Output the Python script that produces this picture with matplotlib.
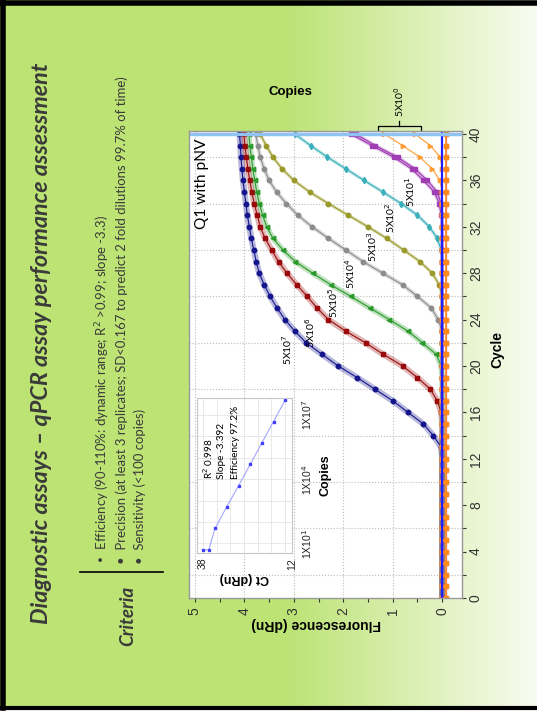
import matplotlib
matplotlib.use("Agg")
import matplotlib.pyplot as plt
import numpy as np

W, H = 537, 719
GREEN_BG = "#bce374"; INK = "#3a3a3a"
SLIDE = ["Lato", "DejaVu Sans"]; CHART = ["Liberation Sans", "DejaVu Sans"]

cycles = list(range(41))
# fluorescence (dRn) per cycle
f_5e7 = [0.0] * 13 + [0.02, 0.18, 0.38, 0.69, 1.0, 1.36, 1.72, 2.1, 2.43, 2.75, 2.98, 3.18, 3.34,
                      3.48, 3.6, 3.7, 3.76, 3.81, 3.86, 3.9, 3.94, 3.97, 4.0, 4.03, 4.05, 4.07, 4.08, 4.1]
f_5e6 = [0.0] * 16 + [0.02, 0.1, 0.24, 0.5, 0.8, 1.19, 1.55, 1.95, 2.3, 2.53, 2.73, 2.94, 3.14,
                      3.31, 3.45, 3.58, 3.68, 3.74, 3.8, 3.85, 3.89, 3.93, 3.96, 3.99, 4.01]
f_5e5 = [0.0] * 20 + [0.02, 0.12, 0.4, 0.69, 1.07, 1.46, 1.85, 2.25, 2.62, 2.97, 3.22, 3.42, 3.55,
                      3.63, 3.7, 3.75, 3.79, 3.83, 3.86, 3.89, 3.91]
f_5e4 = [0.0] * 24 + [0.08, 0.22, 0.5, 0.8, 1.2, 1.6, 1.95, 2.3, 2.63, 2.92, 3.15, 3.35, 3.5, 3.6,
                      3.68, 3.73, 3.77]
f_5e3 = [0.0] * 27 + [0.06, 0.2, 0.45, 0.78, 1.12, 1.5, 1.9, 2.3, 2.68, 3.0, 3.24, 3.42, 3.56, 3.68]
f_5e2 = [0.0] * 30 + [0.02, 0.1, 0.26, 0.5, 0.83, 1.2, 1.58, 1.95, 2.32, 2.66, 2.98]
f_5e1a = [0.0] * 33 + [0.02, 0.06, 0.16, 0.38, 0.62, 0.98, 1.42, 1.85]
f_5e1b = [0.0] * 34 + [0.02, 0.1, 0.3, 0.55, 0.9, 1.35, 1.75]
f_5e0a = [0.0] * 36 + [0.05, 0.2, 0.45, 0.8, 1.17]
f_5e0b = [0.0] * 38 + [0.04, 0.24, 0.55]
f_flat = [-0.07] * 41

# standard curve inset: log10 copies vs Ct
std_log_copies = [0.7, 0.7, 1.7, 2.7, 3.7, 4.7, 5.7, 6.7, 7.7]
std_ct = [38.0, 36.3, 34.5, 31.1, 27.6, 24.2, 20.8, 17.4, 14.0]

curve_labels = ["5X10$^7$", "5X10$^6$", "5X10$^5$", "5X10$^4$", "5X10$^3$", "5X10$^2$", "5X10$^1$"]
label_pos = [(3.14, 21.4), (2.67, 22.9), (2.2, 25.5), (1.86, 28.0), (1.42, 30.3), (1.05, 32.8),
             (0.65, 35.0)]

plt.rcParams["font.family"] = CHART

fig = plt.figure(figsize=(W / 100, H / 100), dpi=100)
rend = fig.canvas.get_renderer()

def box(l, t, r, b):
    return [l / W, 1 - b / H, (r - l) / W, (b - t) / H]

def fit(txt, length):
    # scale a rotated text so that it spans `length` pixels
    h = txt.get_window_extent(rend).height
    txt.set_fontsize(txt.get_fontsize() * length / h)

# slide background: flat green, fading to white on the right
bg = fig.add_axes([0, 0, 1, 1])
bg.set_xlim(0, W); bg.set_ylim(H, 0); bg.axis("off")
c0 = np.array(matplotlib.colors.to_rgb(GREEN_BG)); c1 = np.array(matplotlib.colors.to_rgb("#f9fcf2"))
t = np.clip((np.arange(W) - 285) / (W - 285), 0, 1)
grad = c0[None, :] * (1 - t[:, None]) + c1[None, :] * t[:, None]
bg.imshow(np.repeat(grad[None, :, :], 2, axis=0), extent=[0, W, 708, 0], aspect="auto")
bg.plot([2, W], [2.5, 2.5], color="black", lw=4)
bg.plot([2.5, 2.5], [2, 708], color="black", lw=4)
bg.plot([2, W], [708, 708], color="black", lw=3)

title = bg.text(42, 343, "Diagnostic assays \u2013 qPCR assay performance assessment", rotation=90,
                ha="center", va="center", fontsize=15, fontweight="bold", fontstyle="italic",
                color=INK, family=SLIDE)
fit(title, 563)
crit = bg.text(128, 616, "Criteria", rotation=90, ha="center", va="center", fontsize=13,
               fontweight="bold", fontstyle="italic", color=INK, family=SLIDE)
fit(crit, 60)
bg.plot([80, 163], [572, 572], color="black", lw=1.2)
bullets = ["\u2022  Efficiency (90-110%: dynamic range; R$^2$ >0.99; slope -3.3)",
           "\u2022  Precision (at least 3 replicates; SD<0.167 to predict 2 fold dilutions 99.7% of time)",
           "\u2022  Sensitivity (<100 copies)"]
btxt = [bg.text(xb, 564, s, rotation=90, ha="center", va="bottom", fontsize=9, color=INK,
                family=SLIDE) for xb, s in zip([103, 122, 140], bullets)]
fit(btxt[1], 488)
for b in btxt:
    b.set_fontsize(btxt[1].get_fontsize())
bg.text(290, 92, "Copies", ha="center", va="center", fontsize=9.5, fontweight="bold", color="black")
bg.text(497, 350, "Cycle", rotation=90, ha="center", va="center", fontsize=10, fontweight="bold")
bg.text(316, 624, "Fluorescence (dRn)", rotation=180, ha="center", va="center", fontsize=10,
        fontweight="bold")
# bracket over the 5X10^0 replicates
bg.plot([378, 378, 421, 421], [131, 126, 126, 131], color="black", lw=0.9)
bg.plot([399, 399], [126, 121], color="black", lw=0.9)
bg.text(399, 117, "5X10$^0$", rotation=90, ha="center", va="bottom", fontsize=7.5, family=SLIDE)

# main amplification plot (rotated: x = fluorescence, y = cycle)
ax = fig.add_axes(box(189, 131, 462, 598))
ax.set_facecolor("white")
series = [(f_5e7, "#14148c", "o", 4.5), (f_5e6, "#9a0a0a", "s", 4.5), (f_5e5, "#2a9a2a", "<", 4),
          (f_5e4, "#8c8c8c", "o", 3), (f_5e3, "#9a9a2a", "o", 2.5), (f_5e2, "#38afbb", "d", 2.5),
          (f_5e1a, "#a03cb4", "s", 2.5), (f_5e1b, "#a03cb4", "s", 2.5)]
for vals, col, mk, band in series:
    ax.plot(vals, cycles, color=col, lw=band, alpha=0.3, solid_capstyle="round")
    ax.plot(vals, cycles, color=col, lw=0.8, marker=mk, ms=3.2, mec=col, mfc=col)
for vals in (f_5e0a, f_5e0b):
    ax.plot(vals, cycles, color="#ff9a30", lw=0.9, marker=">", ms=3.2, alpha=0.9)
ax.plot(f_flat, cycles, color="#b050c0", lw=1, marker="s", ms=3.5, alpha=0.7)
ax.plot(f_flat, cycles, color="#ff8a1a", lw=1.2, marker="s", ms=3)
ax.axvline(0, color="#2020ff", lw=1.6)
ax.axhline(40, color="#8ec3f2", lw=2.5)
for s, (x, y) in zip(curve_labels, label_pos):
    ax.text(x, y, s, rotation=90, ha="center", va="center", fontsize=7.5, family=SLIDE)
q1 = ax.text(4.85, 35.7, "Q1 with pNV", rotation=90, ha="center", va="center", fontsize=13,
             family=SLIDE)
fit(q1, 90)

ax.set_xlim(5.12, -0.4); ax.set_ylim(0, 40.26)
ax.set_xticks([5, 4, 3, 2, 1, 0]); ax.set_xticks(np.arange(0, 5.01, 0.5), minor=True)
ax.set_yticks(range(0, 41, 4)); ax.set_yticks(range(0, 41, 2), minor=True)
ax.yaxis.tick_right()
ax.tick_params(axis="both", which="both", labelsize=10, colors="#333333", length=3, width=0.8)
ax.tick_params(axis="x", labelrotation=90)
ax.tick_params(axis="y", labelrotation=90, pad=2)
for lab in ax.get_yticklabels():
    lab.set_va("center")
ax.grid(True, which="major", axis="x", color="#bbbbbb", ls=":", lw=0.8)
ax.grid(True, which="minor", axis="y", color="#bbbbbb", ls=":", lw=0.8)
for sp in ax.spines.values():
    sp.set_color("#999999"); sp.set_linewidth(1)

# standard curve inset
ins = fig.add_axes(box(197, 398, 292, 553))
ins.set_facecolor("white")
ins.plot(std_ct, std_log_copies, color="#8080ff", lw=0.8, alpha=0.7)
ins.plot(std_ct, std_log_copies, ls="none", marker="s", ms=2, color="#4040ff")
ins.set_xlim(39.75, 12); ins.set_ylim(0.55, 7.8)
ins.set_xticks([38, 12]); ins.set_yticks([1, 4, 7])
ins.set_yticklabels(["1X10$^1$", "1X10$^4$", "1X10$^7$"])
ins.set_xticks(np.arange(14, 39, 4), minor=True); ins.set_yticks(np.arange(1, 8, 1), minor=True)
ins.grid(True, which="both", color="#e4e4e4", lw=0.6)
ins.yaxis.tick_right()
ins.tick_params(axis="both", which="both", length=0, labelsize=7.5, colors="#222222")
ins.tick_params(axis="x", labelrotation=90)
ins.tick_params(axis="y", labelrotation=90, pad=6)
for lab in ins.get_yticklabels():
    lab.set_va("center")
ins.set_xlabel("Ct (dRn)", fontsize=9, fontweight="bold", rotation=180, labelpad=2)
ins.set_ylabel("Copies", fontsize=9, fontweight="bold", rotation=90, labelpad=4)
ins.yaxis.set_label_position("right")
for sp in ins.spines.values():
    sp.set_color("#c8c8c8"); sp.set_linewidth(0.8)
for xx, s in zip([36.4, 32.5, 28.4], ["R$^2$ 0.998", "Slope -3.392", "Efficiency 97.2%"]):
    ins.text(xx, 4.0, s, rotation=90, ha="center", va="bottom", fontsize=7.2, family=SLIDE)

fig.savefig("out.png", dpi=100)
